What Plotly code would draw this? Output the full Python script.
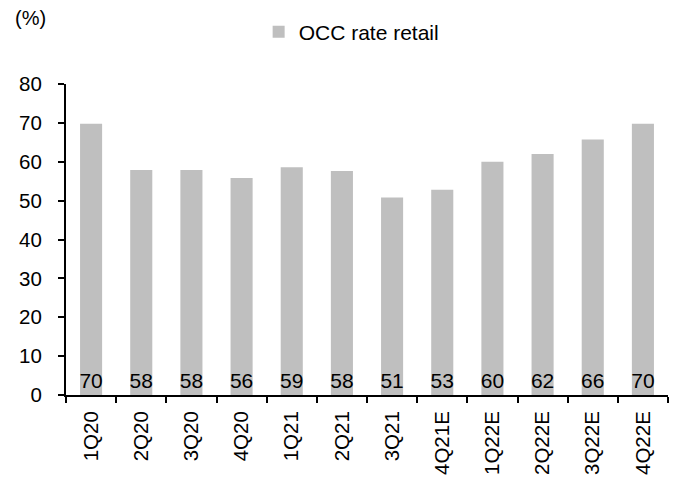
import plotly.graph_objects as go

categories = ["1Q20", "2Q20", "3Q20", "4Q20", "1Q21", "2Q21", "3Q21", "4Q21E",
              "1Q22E", "2Q22E", "3Q22E", "4Q22E"]
occ_rate_retail = [69.8, 57.9, 57.9, 55.8, 58.6, 57.6, 50.8, 52.8, 60.0, 62.0, 65.7, 69.8]
y_ticks = [0, 10, 20, 30, 40, 50, 60, 70, 80]

FONT = "Arial, Liberation Sans, sans-serif"

fig = go.Figure()
fig.add_trace(go.Bar(
    x=categories,
    y=occ_rate_retail,
    name="OCC rate retail",
    marker=dict(color="#bfbfbf", line=dict(width=0)),
    text=[f"{round(v):d}" for v in occ_rate_retail],
    textposition="inside",
    insidetextanchor="start",
    textangle=0,
    insidetextfont=dict(family=FONT, size=21, color="#000000"),
    cliponaxis=False,
))

fig.update_layout(
    width=677, height=479,
    margin=dict(l=66, r=9, t=84, b=84, autoexpand=False),
    paper_bgcolor="white", plot_bgcolor="white",
    font=dict(family=FONT, size=21, color="#000000"),
    bargap=0.56,
    uniformtext=dict(minsize=21, mode="show"),
    showlegend=True,
    legend=dict(
        orientation="h",
        x=0.32, y=1.167, xanchor="left", yanchor="middle",
        font=dict(family=FONT, size=21, color="#000000"),
        itemwidth=30,
        bgcolor="rgba(0,0,0,0)",
    ),
    annotations=[dict(
        text="(%)", xref="paper", yref="paper",
        x=-0.088, y=1.212, xanchor="left", yanchor="middle",
        showarrow=False, font=dict(family=FONT, size=20, color="#000000"),
    )],
)

fig.update_xaxes(
    type="category",
    automargin=False,
    showline=True, linecolor="#000000", linewidth=2,
    ticks="outside", ticklen=6, tickcolor="#000000", tickwidth=1.5,
    tickson="boundaries",
    tickangle=-90,
    ticklabelstandoff=6,
    showgrid=False,
    tickfont=dict(family=FONT, size=20.5, color="#000000"),
)
fig.update_yaxes(
    range=[0, 80],
    automargin=False,
    tickvals=y_ticks,
    showline=True, linecolor="#000000", linewidth=2,
    ticks="outside", ticklen=6, tickcolor="#000000", tickwidth=1.5,
    ticklabelstandoff=12,
    showgrid=False, zeroline=False,
    tickfont=dict(family=FONT, size=20.5, color="#000000"),
)

fig.write_html("out.html")
